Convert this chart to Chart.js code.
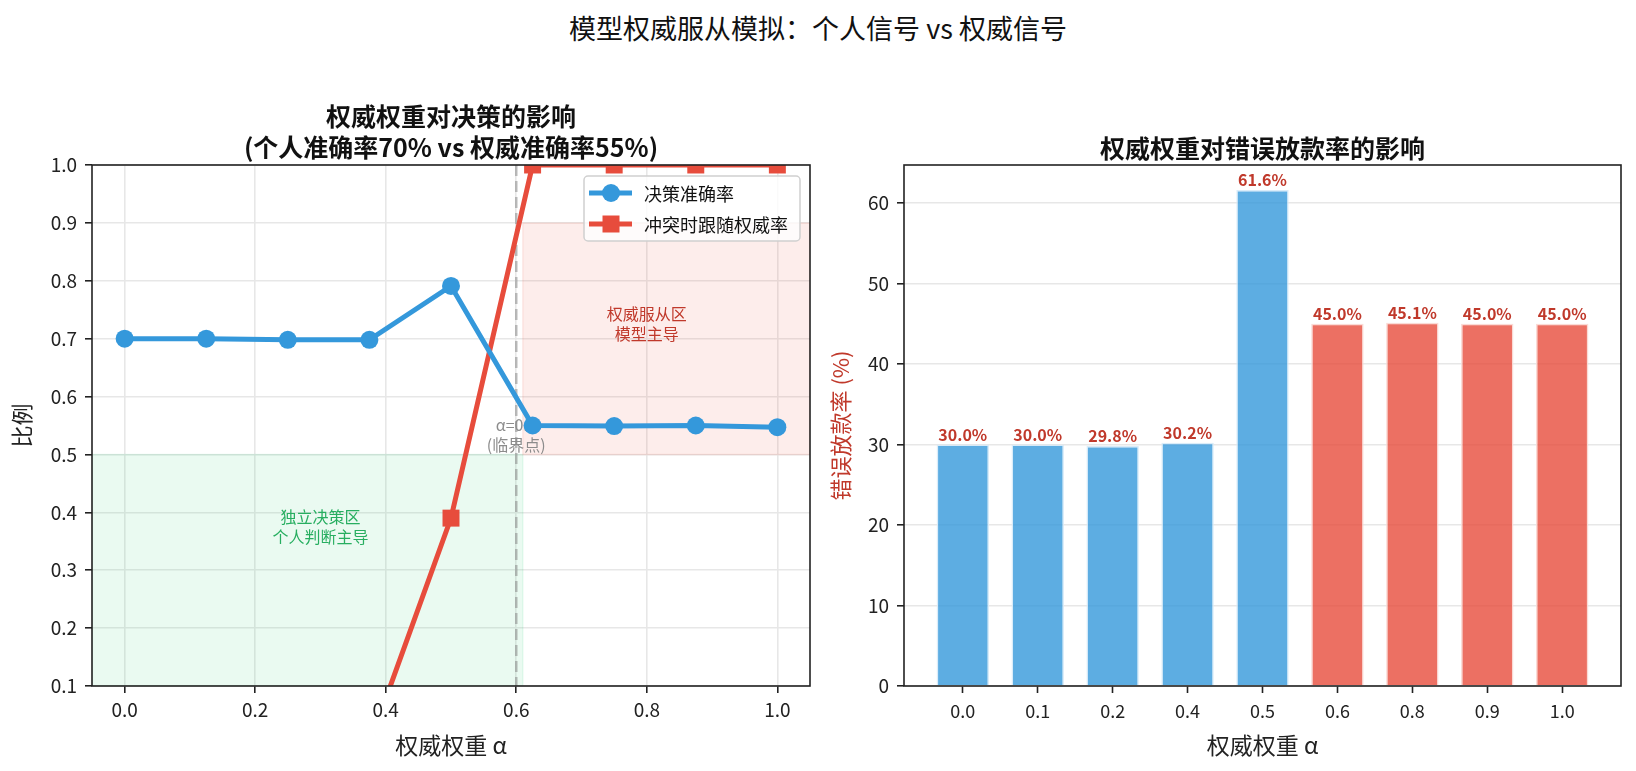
<!DOCTYPE html>
<html>
<head>
<meta charset="utf-8">
<script src="https://cdn.jsdelivr.net/npm/chart.js@4.4.0/dist/chart.umd.min.js"></script>
<style>
  body { margin: 0; background: #fff; width: 1636px; height: 771px; overflow: hidden; position: relative; }
  #suptitle { position: absolute; left: 0; top: 8px; width: 1636px; text-align: center; font: 27px/40px "Noto Sans CJK SC", sans-serif; color: #111; }
  canvas { position: absolute; top: 0; }
  #left { left: 0; }
  #right { left: 820px; }
</style>
</head>
<body>
<div id="suptitle">模型权威服从模拟：个人信号 vs 权威信号</div>
<canvas id="left" width="840" height="771"></canvas>
<canvas id="right" width="816" height="771"></canvas>
<script>
const FONT = '"Noto Sans CJK SC", "Noto Sans", sans-serif';
Chart.defaults.font.family = FONT;
Chart.defaults.color = '#222';

// data
const alphaValues = [0, 0.125, 0.25, 0.375, 0.5, 0.625, 0.75, 0.875, 1.0];
const decisionAccuracy = [0.700, 0.700, 0.698, 0.698, 0.791, 0.550, 0.549, 0.550, 0.547];
const followAuthority = [0, 0, 0, 0, 0.39, 1.0, 1.0, 1.0, 1.0];
const alphaLabels = ['0.0', '0.1', '0.2', '0.4', '0.5', '0.6', '0.8', '0.9', '1.0'];
const wrongLoanRate = [30.0, 30.0, 29.8, 30.2, 61.6, 45.0, 45.1, 45.0, 45.0];
const leftXTicks = [0, 0.2, 0.4, 0.6, 0.8, 1.0];
const leftYTicks = [0.1, 0.2, 0.3, 0.4, 0.5, 0.6, 0.7, 0.8, 0.9, 1.0];
const rightYTicks = [0, 10, 20, 30, 40, 50, 60];
const criticalAlpha = 0.6;
const greenZoneX = [-0.05, 0.61];
const greenZoneY = [0.1, 0.5];
const redZoneX = [0.61, 1.05];
const redZoneY = [0.5, 0.9];

const BLUE = '#3498db';
const RED = '#e74c3c';

function drawLines(ctx, lines, x, y, color, size, weight) {
  ctx.save();
  ctx.font = (weight || '') + ' ' + size + 'px ' + FONT;
  ctx.fillStyle = color;
  ctx.textAlign = 'center';
  ctx.textBaseline = 'middle';
  const lh = size * 1.25;
  const y0 = y - (lines.length - 1) * lh / 2;
  lines.forEach((t, i) => ctx.fillText(t, x, y0 + i * lh));
  ctx.restore();
}

function fillZone(ctx, xs, ys, zx, zy, color) {
  const x0 = xs.getPixelForValue(zx[0]), x1 = xs.getPixelForValue(zx[1]);
  const y0 = ys.getPixelForValue(zy[0]), y1 = ys.getPixelForValue(zy[1]);
  ctx.fillStyle = color;
  ctx.strokeStyle = color;
  ctx.lineWidth = 1.5;
  ctx.beginPath();
  ctx.rect(x0, y1, x1 - x0, y0 - y1);
  ctx.fill();
  ctx.stroke();
}

function drawFrame(chart) {
  const { ctx, chartArea: a } = chart;
  ctx.save();
  ctx.strokeStyle = '#222';
  ctx.lineWidth = 1.6;
  ctx.strokeRect(a.left, a.top, a.right - a.left, a.bottom - a.top);
  ctx.restore();
}

// shaded zones, critical line, notes, frame, legend, title for the left chart
const leftDecor = {
  id: 'leftDecor',
  beforeDatasetsDraw(chart) {
    const { ctx, chartArea: a, scales: { x, y } } = chart;
    ctx.save();
    ctx.beginPath();
    ctx.rect(a.left, a.top, a.right - a.left, a.bottom - a.top);
    ctx.clip();
    fillZone(ctx, x, y, greenZoneX, greenZoneY, 'rgba(46,204,113,0.1)');
    fillZone(ctx, x, y, redZoneX, redZoneY, 'rgba(231,76,60,0.1)');
    const px = x.getPixelForValue(criticalAlpha);
    ctx.strokeStyle = 'rgba(128,128,128,0.5)';
    ctx.lineWidth = 2.5;
    ctx.setLineDash([11, 5]);
    ctx.beginPath();
    ctx.moveTo(px, a.top);
    ctx.lineTo(px, a.bottom);
    ctx.stroke();
    ctx.setLineDash([]);
    drawLines(ctx, ['独立决策区', '个人判断主导'], x.getPixelForValue(0.3), y.getPixelForValue(0.375), '#27ae60', 16);
    drawLines(ctx, ['权威服从区', '模型主导'], x.getPixelForValue(0.8), y.getPixelForValue(0.725), '#c0392b', 16);
    drawLines(ctx, ['α=0.6', '(临界点)'], px, y.getPixelForValue(0.534), '#8c8c8c', 16);
    ctx.restore();
  },
  afterDatasetsDraw(chart) {
    const { ctx, chartArea: a } = chart;
    drawFrame(chart);
    // legend, upper right
    const items = [
      { text: '决策准确率', color: BLUE, style: 'circle' },
      { text: '冲突时跟随权威率', color: RED, style: 'rect' }
    ];
    ctx.save();
    ctx.font = '18px ' + FONT;
    const tw = Math.max(...items.map(it => ctx.measureText(it.text).width));
    const w = 60 + tw + 12, h = 65;
    const bx = a.right - 10 - w, by = a.top + 11;
    ctx.fillStyle = 'rgba(255,255,255,0.8)';
    ctx.strokeStyle = '#d0d0d0';
    ctx.lineWidth = 1.5;
    ctx.beginPath();
    ctx.roundRect(bx, by, w, h, 4);
    ctx.fill();
    ctx.stroke();
    items.forEach((it, i) => {
      const cy = by + 17 + i * 31;
      ctx.strokeStyle = it.color;
      ctx.fillStyle = it.color;
      ctx.lineWidth = 5;
      ctx.beginPath();
      ctx.moveTo(bx + 5, cy);
      ctx.lineTo(bx + 48, cy);
      ctx.stroke();
      ctx.beginPath();
      if (it.style === 'circle') {
        ctx.arc(bx + 27, cy, 9, 0, Math.PI * 2);
      } else {
        ctx.rect(bx + 27 - 8.5, cy - 8.5, 17, 17);
      }
      ctx.fill();
      ctx.fillStyle = '#111';
      ctx.textAlign = 'left';
      ctx.textBaseline = 'middle';
      ctx.fillText(it.text, bx + 60, cy + 1);
    });
    ctx.restore();
  },
  afterDraw(chart) {
    const a = chart.chartArea;
    const cx = (a.left + a.right) / 2;
    drawLines(chart.ctx, ['权威权重对决策的影响', '(个人准确率70% vs 权威准确率55%)'], cx, 132, '#111', 25, 'bold');
  }
};

new Chart(document.getElementById('left'), {
  type: 'line',
  data: {
    datasets: [
      {
        label: '决策准确率',
        data: alphaValues.map((a, i) => ({ x: a, y: decisionAccuracy[i] })),
        borderColor: BLUE,
        backgroundColor: BLUE,
        borderWidth: 5,
        pointRadius: 9,
        pointBorderWidth: 0,
        pointStyle: 'circle',
        clip: 0
      },
      {
        label: '冲突时跟随权威率',
        data: alphaValues.map((a, i) => ({ x: a, y: followAuthority[i] })),
        borderColor: RED,
        backgroundColor: RED,
        borderWidth: 5,
        pointRadius: 12,
        pointBorderWidth: 0,
        pointStyle: 'rect',
        clip: 0
      }
    ]
  },
  options: {
    responsive: false,
    animation: false,
    layout: { padding: { left: 0, right: 30, top: 165, bottom: 0 } },
    plugins: { legend: { display: false }, tooltip: { enabled: false } },
    scales: {
      x: {
        type: 'linear',
        min: -0.05,
        max: 1.05,
        afterBuildTicks: s => { s.ticks = leftXTicks.map(v => ({ value: v })); },
        afterFit: s => { s.height = 85; },
        ticks: { callback: v => v.toFixed(1), font: { size: 19 }, color: '#222', padding: 5, maxRotation: 0, autoSkip: false },
        grid: { color: '#e7e7e7', lineWidth: 1.6, tickColor: '#222', tickLength: 7, tickWidth: 1.6 },
        border: { display: false },
        title: { display: true, text: '权威权重 α', font: { size: 23 }, color: '#222', padding: { top: 0, bottom: 12 } }
      },
      y: {
        type: 'linear',
        min: 0.1,
        max: 1.0,
        afterBuildTicks: s => { s.ticks = leftYTicks.map(v => ({ value: v })); },
        afterFit: s => { s.width = 92; },
        ticks: { callback: v => v.toFixed(1), font: { size: 19 }, color: '#222', padding: 8, autoSkip: false },
        grid: { color: '#e7e7e7', lineWidth: 1.6, tickColor: '#222', tickLength: 7, tickWidth: 1.6 },
        border: { display: false },
        title: { display: true, text: '比例', font: { size: 22 }, color: '#222', padding: { top: 8, bottom: 0 } }
      }
    }
  },
  plugins: [leftDecor]
});

// value labels, frame and title for the bar chart
const rightDecor = {
  id: 'rightDecor',
  afterDatasetsDraw(chart) {
    const ctx = chart.ctx;
    const meta = chart.getDatasetMeta(0);
    ctx.save();
    ctx.font = 'bold 16px ' + FONT;
    ctx.fillStyle = '#c0392b';
    ctx.textAlign = 'center';
    ctx.textBaseline = 'bottom';
    meta.data.forEach((bar, i) => ctx.fillText(wrongLoanRate[i].toFixed(1) + '%', bar.x, bar.y - 2));
    ctx.restore();
    drawFrame(chart);
  },
  afterDraw(chart) {
    const a = chart.chartArea;
    drawLines(chart.ctx, ['权威权重对错误放款率的影响'], (a.left + a.right) / 2, 148, '#111', 25, 'bold');
  }
};

new Chart(document.getElementById('right'), {
  type: 'bar',
  data: {
    datasets: [{
      label: '错误放款率',
      data: wrongLoanRate.map((v, i) => ({ x: i, y: v })),
      backgroundColor: alphaValues.map(a => a >= criticalAlpha ? 'rgba(231,76,60,0.8)' : 'rgba(52,152,219,0.8)'),
      borderColor: alphaValues.map(a => a >= criticalAlpha ? 'rgba(250,215,210,0.9)' : 'rgba(214,234,248,0.9)'),
      borderWidth: 1.5,
      barPercentage: 0.7,
      categoryPercentage: 1.0
    }]
  },
  options: {
    responsive: false,
    animation: false,
    layout: { padding: { left: 0, right: 15, top: 165, bottom: 0 } },
    plugins: { legend: { display: false }, tooltip: { enabled: false } },
    scales: {
      x: {
        type: 'linear',
        min: -0.785,
        max: 8.785,
        offset: false,
        afterBuildTicks: s => { s.ticks = alphaLabels.map((l, i) => ({ value: i })); },
        afterFit: s => { s.height = 85; },
        ticks: { callback: (v, i) => alphaLabels[i], font: { size: 18 }, color: '#222', padding: 7, maxRotation: 0, autoSkip: false },
        grid: { offset: false, drawOnChartArea: false, tickColor: '#222', tickLength: 7, tickWidth: 1.6 },
        border: { display: false },
        title: { display: true, text: '权威权重 α', font: { size: 23 }, color: '#222', padding: { top: 0, bottom: 12 } }
      },
      y: {
        type: 'linear',
        min: 0,
        max: 64.7,
        afterBuildTicks: s => { s.ticks = rightYTicks.map(v => ({ value: v })); },
        afterFit: s => { s.width = 84; },
        ticks: { font: { size: 19 }, color: '#222', padding: 8, autoSkip: false },
        grid: { color: '#e7e7e7', lineWidth: 1.6, tickColor: '#222', tickLength: 7, tickWidth: 1.6 },
        border: { display: false },
        title: { display: true, text: '错误放款率 (%)', font: { size: 22 }, color: '#c0392b', padding: { top: 7, bottom: 0 } }
      }
    }
  },
  plugins: [rightDecor]
});
</script>
</body>
</html>
